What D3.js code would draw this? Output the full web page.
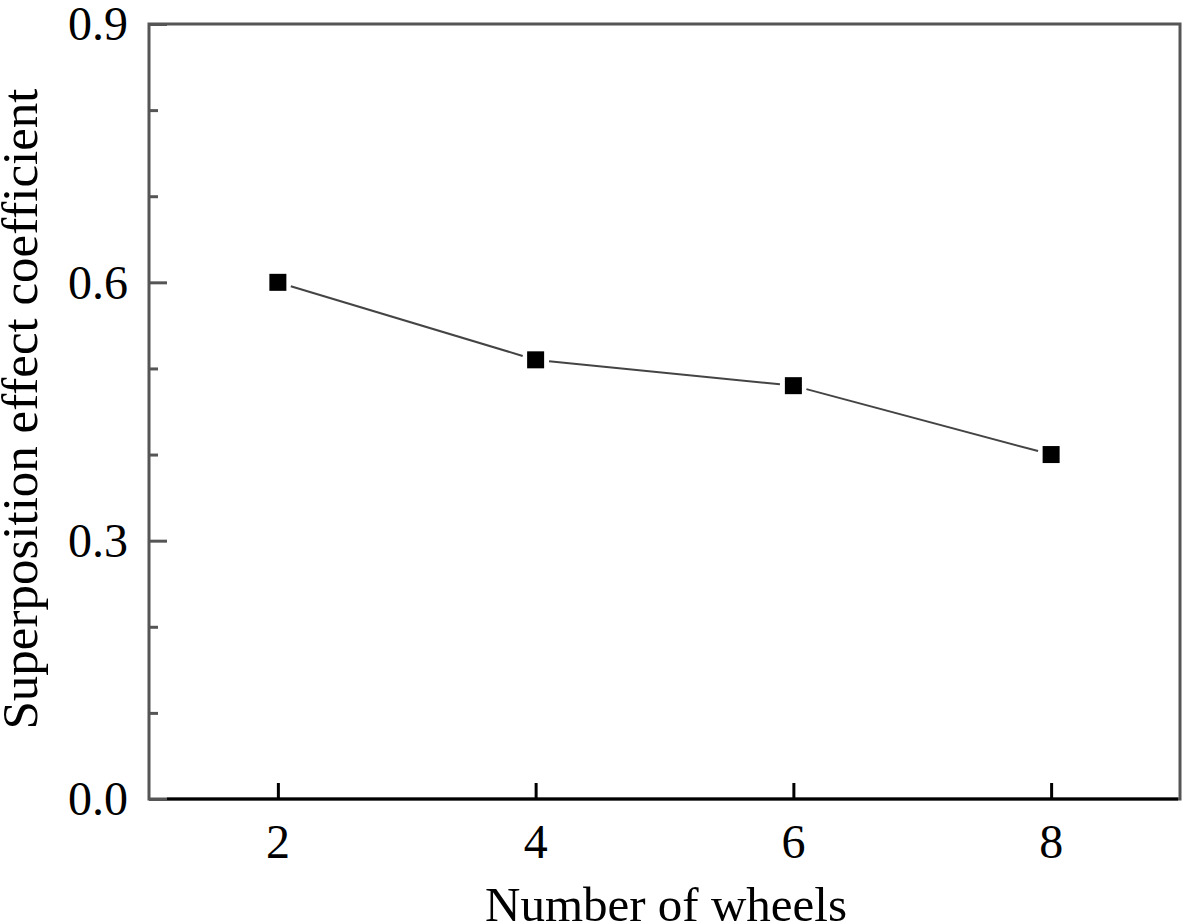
<!DOCTYPE html>
<html><head><meta charset="utf-8">
<script src="https://cdn.jsdelivr.net/npm/d3@7"></script>
<style>body{margin:0;background:#fff;} svg{display:block;} text{font-family:"Liberation Serif","Times New Roman",serif;fill:#000;}</style>
</head><body>
<svg id="c" width="1184" height="924"></svg>
<script>
const wheels = [2, 4, 6, 8];
const coefficient = [0.60, 0.51, 0.48, 0.40];
const xTickValues = [2, 4, 6, 8];
const yMajorTicks = [0.0, 0.3, 0.6, 0.9];
const yMinorTicks = [0.1, 0.2, 0.4, 0.5, 0.7, 0.8];
const xLabel = "Number of wheels";
const yLabel = "Superposition effect coefficient";

const L = 149, R = 1180, T = 24, B = 799;
const svg = d3.select("#c");
const x = d3.scaleLinear().domain([1, 9]).range([L, R]);
const y = d3.scaleLinear().domain([0, 0.9]).range([B, T]);
const gray = "#555";

// frame
svg.append("rect").attr("x", L).attr("y", T).attr("width", R - L).attr("height", B - T)
  .attr("fill", "none").attr("stroke", gray).attr("stroke-width", 3);

// y axis ticks (inward)
const yAxis = d3.axisRight(y).tickValues(yMajorTicks).tickSize(18).tickFormat("");
const gy = svg.append("g").attr("transform", `translate(${L},0)`).call(yAxis);
gy.select(".domain").remove();
gy.selectAll("line").attr("stroke", gray).attr("stroke-width", 3);
const yAxisMinor = d3.axisRight(y).tickValues(yMinorTicks).tickSize(9).tickFormat("");
const gym = svg.append("g").attr("transform", `translate(${L},0)`).call(yAxisMinor);
gym.select(".domain").remove();
gym.selectAll("line").attr("stroke", gray).attr("stroke-width", 3);
// y labels
svg.append("g").selectAll("text").data(yMajorTicks).join("text")
  .attr("x", 128).attr("y", d => y(d)).attr("dy", "0.34em")
  .attr("text-anchor", "end").attr("font-size", 48)
  .text(d => d.toFixed(1));

// bottom axis (black)
svg.append("line").attr("x1", L + 18).attr("x2", R - 2).attr("y1", B).attr("y2", B)
  .attr("stroke", "#000").attr("stroke-width", 3);
const xAxis = d3.axisTop(x).tickValues(xTickValues).tickSize(16).tickFormat("");
const gx = svg.append("g").attr("transform", `translate(0,${B})`).call(xAxis);
gx.select(".domain").remove();
gx.selectAll("line").attr("stroke", "#000").attr("stroke-width", 3);
svg.append("g").selectAll("text").data(xTickValues).join("text")
  .attr("x", d => x(d)).attr("y", 858).attr("text-anchor", "middle").attr("font-size", 48)
  .text(d => d);

// axis titles
svg.append("text").attr("x", 666).attr("y", 921).attr("text-anchor", "middle")
  .attr("font-size", 49).text(xLabel);
svg.append("text").attr("transform", "translate(37,409) rotate(-90)")
  .attr("text-anchor", "middle").attr("font-size", 51).text(yLabel);

// line segments with gaps near markers
const pts = wheels.map((w, i) => [x(w), y(coefficient[i])]);
const ms = 17, gap = ms / 2 + 5;
const segs = [];
for (let i = 0; i < pts.length - 1; i++) {
  const [x1, y1] = pts[i], [x2, y2] = pts[i + 1];
  const dx = x2 - x1, dy = y2 - y1, len = Math.hypot(dx, dy);
  const ux = dx / len, uy = dy / len;
  segs.push([x1 + ux * gap, y1 + uy * gap, x2 - ux * gap, y2 - uy * gap]);
}
svg.append("g").selectAll("line").data(segs).join("line")
  .attr("x1", d => d[0]).attr("y1", d => d[1]).attr("x2", d => d[2]).attr("y2", d => d[3])
  .attr("stroke", "#444").attr("stroke-width", 2);

svg.append("g").selectAll("rect").data(pts).join("rect")
  .attr("x", d => d[0] - ms / 2).attr("y", d => d[1] - ms / 2)
  .attr("width", ms).attr("height", ms).attr("fill", "#000");
</script>
</body></html>
